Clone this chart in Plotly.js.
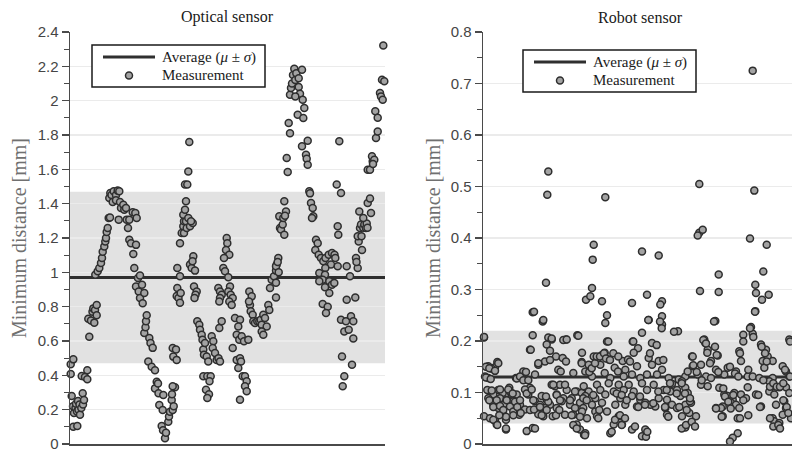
<!DOCTYPE html>
<html>
<head>
<meta charset="utf-8">
<script src="https://cdn.plot.ly/plotly-3.0.1.min.js"></script>
<style>
  html, body { margin: 0; padding: 0; overflow: hidden; background: #ffffff; }
  #chart { width: 798px; height: 460px; }
</style>
</head>
<body>
<div id="chart"></div>
<script>
// Optical sensor: sample position and minimum distance [mm]
const opticalX = [
  0.7,0.7,1.7,3.3,3.3,3,4,5.5,6,7,7.3,8,8.5,9.5,10,11.3,11.7,12.7,13,14,15,17.3,17.3,18.3,19.3,21,22.5,23.3,24.3,25,
  25.3,26.7,26.7,27.7,29.3,31,32,32.7,34.3,35.3,36,36.7,37.7,38.7,40,39.3,40.3,41.5,42.7,43.7,46,46,47.7,48.7,49.3,50,
  51,53.3,54.3,56,56.7,58,59.3,59.3,61,62.7,63.3,64.3,65.3,66,66.7,66,68,68.7,70,70,72,72.7,74.3,74.3,75.5,76,76.7,
  78.3,79.3,80.5,81.7,82.7,85,85,86.7,88,88.5,89.3,92.7,93.3,91.7,93,95,96,98.3,99,100,102.7,101.7,102,105,102.7,103.7,
  103.3,106.7,102.7,106,106.7,107.3,107.3,108.5,110,110,110.7,110,111.7,113.3,114,114,113.3,115,116,116,115,117.3,116.7,
  118.3,118.3,119.3,120,122.7,121,120,121.7,123.3,122.5,125,124,126.7,125.5,124.5,127.3,129.3,130,131.7,132.5,133.3,134,
  135,136.7,138.3,133.3,137.3,140.7,139.5,136,139,137.3,141.7,143.3,142.7,145,146.7,148.5,150,149.3,151.7,148.3,150,151.7,
  150,149.3,153.3,155,156.7,157.3,156,159.3,154,158.3,160,158.3,160.7,162.7,159.3,161.7,165,170,168.3,162.7,166.7,169.3,
  171.7,174,178.3,166.7,170,171,168.3,172.7,175,176.7,175,176.7,170,179.3,181.7,180,179,180.7,182.7,183.3,185,187.3,189.3,
  190.7,191.7,193.3,195,196.7,191.7,193.3,198.3,199.3,200,201.7,204,206,206.7,208.3,210,209.3,206,207.7,208.7,206,206,
  211,212.7,213.3,214.3,214.3,216,215,216.7,217.7,218.7,220,220,221,222,224.3,223,225.3,226.3,228.7,232,228.7,230,225.3,
  232.7,234.3,227.7,233.3,232,237.7,236,236.7,237.7,239.3,240,241,242.7,243.3,242,246,247.7,245.3,248.7,251,253.3,255.5,
  258.7,262,264.5,265.3,261,255.3,249.3,255,252.7,259.3,262,249.3,255,259.3,252.7,257.7,256,264.3,266.7,271,267.7,268.3,
  269.3,267.7,276.7,280,276.7,285.3,271,276,281,283.3,274.3,278.7,283.3,272,282,274.3,272.7,286,287.7,286.5,288.7,287.7,
  290,291,293.3,294.3,296,296.7,297.5,291.5,292,289.3,293.3,297.7,300,301,297.7,300,302.7,302,304.3,303,306,307.7,305.3,
  307.7,310,311,312.7,312,314.3,313.3
];
const opticalY = [
  0.464,0.408,0.28,0.493,0.10,0.22,0.18,0.21,0.235,0.19,0.105,0.25,0.2,0.23,0.17,0.21,0.396,0.295,0.23,0.256,0.39,0.43,0.377,0.73,0.625,0.72,0.77,0.79,0.707,0.78,
  0.986,0.81,0.75,1.006,1.025,1.054,1.083,1.12,1.15,1.18,1.2,1.235,1.258,1.317,1.32,1.433,1.462,1.45,1.41,1.472,1.45,1.42,1.476,1.307,1.472,1.41,
  1.375,1.394,1.365,1.375,1.307,1.258,1.307,1.19,1.17,1.35,1.107,1.025,1.346,1.16,1.316,0.918,0.967,0.889,0.982,0.85,0.928,0.82,0.88,0.647,0.68,0.715,0.75,
  0.48,0.617,0.588,0.45,0.56,0.43,0.324,0.363,0.353,0.295,0.227,0.198,0.285,0.105,0.08,0.033,0.066,0.13,0.16,0.188,0.198,0.256,0.29,0.33,0.336,0.22,
  0.509,0.49,0.559,0.55,0.862,0.909,1.025,0.85,0.977,0.823,0.88,1.169,1.229,1.268,1.297,1.229,1.336,1.365,1.414,1.297,1.511,1.511,1.258,
  1.588,1.317,1.759,1.268,1.287,1.297,1.045,1.025,1.093,1.064,1.01,0.918,0.889,0.87,0.85,0.715,0.695,0.666,0.637,0.608,0.55,0.52,
  0.588,0.51,0.48,0.394,0.394,0.394,0.365,0.316,0.29,0.268,0.627,0.598,0.559,0.53,0.49,0.5,0.48,0.676,0.715,0.909,0.889,0.87,
  0.85,0.83,1.025,1.006,1.2,1.17,1.13,1.103,1.083,0.971,0.918,0.889,0.87,0.85,0.83,0.81,0.734,0.724,0.685,0.559,0.637,0.608,
  0.627,0.598,0.608,0.49,0.5,0.48,0.443,0.394,0.394,0.365,0.336,0.307,0.258,0.889,0.86,0.81,0.83,0.773,0.753,0.715,0.705,0.715,0.715,
  0.724,0.695,0.753,0.734,0.685,0.656,0.637,0.81,0.78,0.909,0.957,0.977,1.01,1.045,1.083,1.258,1.326,1.035,1.06,1.0,0.854,0.94,
  1.249,1.278,1.317,1.219,1.414,1.355,1.33,1.666,1.584,1.87,1.81,2.035,2.074,2.10,2.186,2.15,2.12,2.16,2.13,2.18,2.08,2.04,2.025,
  2.006,1.957,1.918,1.899,1.734,1.767,1.685,1.662,1.627,1.472,1.46,1.404,1.375,1.326,1.317,1.19,1.17,1.13,1.103,1.083,1.064,1.083,
  1.103,1.113,1.103,1.083,1.045,1.025,0.996,0.986,0.957,0.948,0.928,0.948,0.913,0.88,0.816,0.8,0.763,0.938,1.511,1.462,1.268,1.219,
  1.763,1.035,1.035,0.977,0.84,0.854,0.724,0.715,0.744,0.715,0.656,0.666,0.614,0.51,0.462,0.394,0.336,1.083,1.025,1.06,1.18,1.21,
  1.258,1.278,1.26,1.278,1.258,1.285,1.26,1.21,1.13,1.355,1.317,1.404,1.43,1.346,1.598,1.598,1.647,1.676,1.656,1.631,1.783,1.821,1.938,
  1.9,2.045,2.025,2.006,2.122,2.113,2.322
];

// Robot sensor: sample position and minimum distance [mm]
const robotX = [
  65.3,64.3,63,49.7,59.7,103,1,49.7,65.3,68.7,83,94.3,47,63.7,67,73,79.7,83,62,55.3,98.7,14.3,12,5.3,8.7,2,5.3,40.3,37,52,
  75.3,77.7,90.3,33,43.7,68.7,72,77,7,15.3,26.3,47,83.7,93.7,98.7,10.3,19.7,28.7,33.7,45.3,58.7,73.7,80.3,88.7,5.3,17,23.7,
  30.3,52,63.7,10.3,22,37,57,67,78.7,87,97,15.3,27,42,62,73.7,92,100.3,19.7,30.3,36.3,55.3,60.3,69.7,82,90.3,1,7,12,23,13.7,
  23,43.7,49.7,93.7,97,101,
  122.3,110.7,109.7,159,175.7,109,107.3,119,149,164,179,177.3,124,122.3,165.7,179,179,195,159,124,149.7,99,110.7,119,121.7,169,
  155,150.7,165.7,175.7,114,125.7,139.7,145,169,105.7,117.3,131.7,142.3,154,179,102.3,121.7,135,149,164,174,109,127.3,140.7,
  157.3,185.7,195.7,202.3,100.7,114,125.7,135.7,145.7,159,170.7,189,199,105.7,117.3,130.7,140.7,150.7,164,180.7,187.3,194,202.3,
  102.3,112.3,122.3,137.3,149,157.3,175.7,184,197.3,109,119,132.3,142.3,162.3,172.3,189,202.3,99,112.3,124,154,167.3,182.3,194,
  104,135.7,114,184,199,130.7,139,102.3,127.3,149,162.3,159,202.3,
  269.7,216.3,271.3,216.3,219.7,214.7,267,283.7,280.3,235.7,217,235.7,272.3,273,279,285.7,272.3,232.3,268,260.3,269.7,221.3,222.3,
  306.3,224.7,278,283,284.7,256.3,209,234.7,228,258,279.7,289.7,218,209.7,244.7,253,281.3,299.7,233,204.7,214.7,223,241.3,264.7,
  269.7,276.3,303,306.3,289.7,228,218,224.7,264.7,286.3,291.3,296.3,303,236.3,241.3,244.7,251.3,258,273,286.3,291.3,306.3,204.7,
  208,206.3,207,249.7,263,248,253,239.7,278,293,301.3,233,238,256.3,303,299.7,213,239.7,254.7,289.7,291.3,296.3,308,254.7,249.7,247,
  1,3,6.3,3,7.7,15.3,12,4.3,8.7,17,13.7,6.3,10.3,17,20.3,23.7,27,25.3,29.7,32,34.3,37,37.7,30.3,23,16.3,10.3,14.3,23,33.7,37,
  40.3,43,42,43.7,45.3,47.7,51,52,48.7,50.3,47,51,55.3,60.3,57,58.7,63.7,65.3,63,67,68.7,70.3,73.7,73,77,76.3,80.3,83.7,82,87,
  90.3,93.7,88.7,92,95.3,97,98.7,100.3,103.7,102,106.3,108.7,112,113.7,117,116.3,115.3,110.3,121,123,127,130.3,135.3,125.3,128.7,
  132,137,142,138.7,133.7,138.7,143.7,147,150.3,152,155.3,157,162,163,164.3,165.3,167,170.3,173.7,175.3,177,178.7,180.3,182,183.7,
  185.3,187,191,193.7,196.3,198.7,202,203.7,207,198.7,203,208.7,212,209.7,210.3,213.7,218.7,220.3,223,224.3,227,231,232,233.7,
  235.3,233,238.7,240.3,242,245.3,247.7,250.3,247,252,255.3,257,260.3,257,260.3,265.3,267,270.3,272,265.3,277,275.3,278.7,282,
  283.7,280.3,287,290.3,293.7,297,300.3,287,290.3,295.3,297,300.3,303.7,305.3,307,302,307
];
const robotY = [
  0.529,0.484,0.313,0.256,0.238,0.28,0.207,0.211,0.207,0.203,0.203,0.211,0.183,0.193,0.181,0.17,0.167,0.16,0.16,0.154,0.159,0.159,
  0.149,0.151,0.146,0.131,0.128,0.141,0.129,0.135,0.144,0.141,0.138,0.128,0.125,0.115,0.112,0.115,0.102,0.105,0.109,0.109,0.105,
  0.102,0.099,0.096,0.099,0.096,0.096,0.096,0.093,0.096,0.089,0.089,0.089,0.089,0.086,0.083,0.083,0.086,0.076,0.078,0.076,0.076,
  0.076,0.083,0.076,0.08,0.07,0.073,0.067,0.07,0.07,0.07,0.07,0.06,0.063,0.057,0.058,0.054,0.054,0.057,0.057,0.054,0.05,0.045,
  0.047,0.038,0.028,0.025,0.031,0.038,0.028,0.018,
  0.479,0.387,0.358,0.374,0.366,0.303,0.287,0.277,0.274,0.29,0.277,0.271,0.25,0.235,0.241,0.248,0.232,0.219,0.216,0.199,0.199,
  0.177,0.17,0.173,0.177,0.196,0.186,0.177,0.167,0.161,0.161,0.164,0.161,0.164,0.154,0.154,0.154,0.148,0.144,0.151,0.144,0.141,
  0.138,0.141,0.135,0.135,0.135,0.131,0.128,0.131,0.128,0.128,0.125,0.131,0.112,0.115,0.118,0.115,0.115,0.118,0.115,0.117,0.122,
  0.102,0.105,0.102,0.105,0.102,0.105,0.105,0.102,0.105,0.109,0.093,0.089,0.096,0.089,0.093,0.086,0.089,0.086,0.093,0.076,0.08,
  0.076,0.076,0.08,0.073,0.076,0.076,0.063,0.063,0.063,0.073,0.076,0.07,0.07,0.05,0.054,0.054,0.057,0.054,0.038,0.038,0.021,0.021,
  0.028,0.028,0.015,0.032,
  0.725,0.505,0.492,0.41,0.416,0.405,0.399,0.387,0.335,0.329,0.297,0.295,0.309,0.293,0.28,0.29,0.258,0.239,0.227,0.212,0.214,0.203,
  0.196,0.203,0.183,0.193,0.183,0.17,0.18,0.17,0.172,0.161,0.161,0.161,0.161,0.154,0.151,0.148,0.141,0.148,0.151,0.144,0.141,0.135,
  0.131,0.135,0.131,0.131,0.128,0.141,0.131,0.128,0.128,0.115,0.112,0.11,0.122,0.112,0.11,0.11,0.109,0.096,0.093,0.099,0.096,0.096,
  0.102,0.096,0.099,0.099,0.08,0.06,0.083,0.086,0.089,0.08,0.076,0.073,0.073,0.076,0.083,0.07,0.07,0.07,0.07,0.057,0.054,0.054,0.05,
  0.05,0.044,0.041,0.05,0.021,0.012,0.005,
  0.208,0.15,0.147,0.129,0.126,0.157,0.142,0.105,0.104,0.106,0.085,0.085,0.072,0.074,0.066,0.085,0.102,0.106,0.098,0.082,0.072,
  0.085,0.06,0.056,0.053,0.056,0.047,0.037,0.03,0.127,0.131,0.124,0.14,0.106,0.098,0.124,0.183,0.257,0.03,0.106,0.085,0.066,0.067,
  0.157,0.241,0.072,0.056,0.066,0.082,0.092,0.163,0.205,0.115,0.095,0.056,0.085,0.066,0.202,0.203,0.115,0.085,0.037,0.03,0.056,
  0.102,0.21,0.053,0.157,0.089,0.085,0.017,0.14,0.147,0.157,0.17,0.17,0.066,0.05,0.095,0.176,0.166,0.163,0.176,0.17,0.199,0.024,
  0.047,0.056,0.05,0.037,0.098,0.095,0.085,0.16,0.199,0.034,0.072,0.092,0.076,0.014,0.024,0.241,0.176,0.079,0.192,0.102,0.238,
  0.225,0.163,0.072,0.105,0.053,0.118,0.218,0.098,0.072,0.118,0.098,0.066,0.089,0.03,0.037,0.043,0.034,0.17,0.153,0.14,0.124,
  0.202,0.195,0.177,0.157,0.238,0.189,0.173,0.14,0.069,0.053,0.108,0.092,0.082,0.069,0.095,0.15,0.137,0.131,0.176,0.199,0.05,
  0.085,0.144,0.225,0.208,0.257,0.056,0.072,0.095,0.189,0.176,0.16,0.124,0.111,0.118,0.111,0.111,0.118,0.05,0.034,0.037,0.03,
  0.085,0.072,0.06,0.199,0.144,0.131
];

// Summary statistics drawn as the average line and the ±σ band
const opticalMean = 0.97, opticalStd = 0.5;
const robotMean = 0.13, robotStd = 0.09;

const sampleRange = [0, 315];
const averageLabel = 'Average (<i>μ</i> ± <i>σ</i>)';
const pointLabel = 'Measurement';

const pointFill = '#a3a3a3', pointEdge = '#2e2e2e', lineColor = '#2f2f2f';
const markerStyle = { size: 7, color: pointFill, line: { color: pointEdge, width: 1.5 } };
const meanLineStyle = { color: lineColor, width: 3 };

const traces = [
  { x: sampleRange, y: [opticalMean, opticalMean], mode: 'lines', line: meanLineStyle,
    name: averageLabel, xaxis: 'x', yaxis: 'y', hoverinfo: 'skip' },
  { x: opticalX, y: opticalY, mode: 'markers', marker: markerStyle, cliponaxis: false,
    name: pointLabel, xaxis: 'x', yaxis: 'y' },
  { x: sampleRange, y: [robotMean, robotMean], mode: 'lines', line: meanLineStyle,
    name: averageLabel, xaxis: 'x2', yaxis: 'y2', hoverinfo: 'skip' },
  { x: robotX, y: robotY, mode: 'markers', marker: markerStyle, cliponaxis: false,
    name: pointLabel, xaxis: 'x2', yaxis: 'y2' }
];

// Figure is laid out in pixel units, then converted to paper fractions
const W = 798, H = 460;
const px = v => v / W;
const py = v => 1 - v / H;

const tickFont = { family: 'Liberation Sans, Arial, sans-serif', size: 15, color: '#454545' };
const serif = 'Liberation Serif, Times New Roman, serif';

function yAxis(range, dtick, minorDtick) {
  return {
    domain: [py(444), py(32)],
    range: range,
    dtick: dtick,
    tick0: 0,
    showgrid: true,
    gridcolor: '#ebebeb',
    gridwidth: 1.5,
    zeroline: false,
    showline: true,
    linecolor: '#4a4a4a',
    linewidth: 1.5,
    ticks: 'outside',
    ticklen: 7,
    tickwidth: 1.3,
    tickcolor: '#4a4a4a',
    tickfont: tickFont,
    ticklabeloverflow: 'allow',
    minor: { dtick: minorDtick, ticks: 'outside', ticklen: 5, tickwidth: 1.2, tickcolor: '#4a4a4a', showgrid: false },
    fixedrange: true
  };
}
function xAxis(domain, anchor) {
  return {
    domain: domain,
    range: sampleRange,
    anchor: anchor,
    showgrid: false,
    zeroline: false,
    showticklabels: false,
    ticks: '',
    showline: true,
    linecolor: '#4a4a4a',
    linewidth: 2,
    fixedrange: true
  };
}

// Boxed key: line sample + text, marker sample + text
function keyBox(left, top) {
  const w = 173, h = 42;
  const shapes = [
    { type: 'rect', xref: 'paper', yref: 'paper', layer: 'above',
      x0: px(left), x1: px(left + w), y0: py(top), y1: py(top + h),
      fillcolor: '#ffffff', line: { color: '#1a1a1a', width: 1.5 } },
    { type: 'line', xref: 'paper', yref: 'paper', layer: 'above',
      x0: px(left + 11), x1: px(left + 63), y0: py(top + 12), y1: py(top + 12),
      line: { color: lineColor, width: 3 } },
    { type: 'circle', xref: 'paper', yref: 'paper', layer: 'above',
      x0: px(left + 33.5), x1: px(left + 40.5), y0: py(top + 27), y1: py(top + 34),
      fillcolor: pointFill, line: { color: pointEdge, width: 1.5 } }
  ];
  const font = { family: serif, size: 15, color: '#1a1a1a' };
  const notes = [
    { text: averageLabel, xref: 'paper', yref: 'paper', x: px(left + 68), y: py(top + 12),
      xanchor: 'left', yanchor: 'middle', showarrow: false, font: font },
    { text: pointLabel, xref: 'paper', yref: 'paper', x: px(left + 68), y: py(top + 30),
      xanchor: 'left', yanchor: 'middle', showarrow: false, font: font }
  ];
  return { shapes, notes };
}
const keyLeft = keyBox(92, 45);
const keyRight = keyBox(523, 50);

const titleFont = { family: serif, size: 16, color: '#1a1a1a' };
const axisTitleFont = { family: serif, size: 20, color: '#707070' };

const layout = {
  width: W, height: H,
  margin: { l: 0, r: 0, t: 0, b: 0 },
  paper_bgcolor: '#ffffff',
  plot_bgcolor: '#ffffff',
  showlegend: false,
  xaxis: xAxis([px(70), px(385)], 'y'),
  yaxis: Object.assign(yAxis([0, 2.4], 0.2, 0.1), { anchor: 'x' }),
  xaxis2: xAxis([px(483), 1], 'y2'),
  yaxis2: Object.assign(yAxis([0, 0.8], 0.1, 0.05), { anchor: 'x2' }),
  shapes: [
    { type: 'rect', xref: 'x domain', yref: 'y', x0: 0, x1: 1,
      y0: opticalMean - opticalStd, y1: opticalMean + opticalStd,
      fillcolor: '#e2e2e2', line: { width: 0 }, layer: 'below' },
    { type: 'rect', xref: 'x2 domain', yref: 'y2', x0: 0, x1: 1,
      y0: robotMean - robotStd, y1: robotMean + robotStd,
      fillcolor: '#e2e2e2', line: { width: 0 }, layer: 'below' }
  ].concat(keyLeft.shapes, keyRight.shapes),
  annotations: [
    { text: 'Optical sensor', xref: 'paper', yref: 'paper', x: px(227.5), y: py(17),
      xanchor: 'center', yanchor: 'middle', showarrow: false, font: titleFont },
    { text: 'Robot sensor', xref: 'paper', yref: 'paper', x: px(640.5), y: py(17),
      xanchor: 'center', yanchor: 'middle', showarrow: false, font: titleFont },
    { text: 'Minimum distance [mm]', xref: 'paper', yref: 'paper', x: px(19), y: py(238),
      xanchor: 'center', yanchor: 'middle', textangle: -90, showarrow: false, font: axisTitleFont },
    { text: 'Minimum distance [mm]', xref: 'paper', yref: 'paper', x: px(433), y: py(238),
      xanchor: 'center', yanchor: 'middle', textangle: -90, showarrow: false, font: axisTitleFont }
  ].concat(keyLeft.notes, keyRight.notes)
};

Plotly.newPlot('chart', traces, layout, { displayModeBar: false, staticPlot: true });
</script>
</body>
</html>
